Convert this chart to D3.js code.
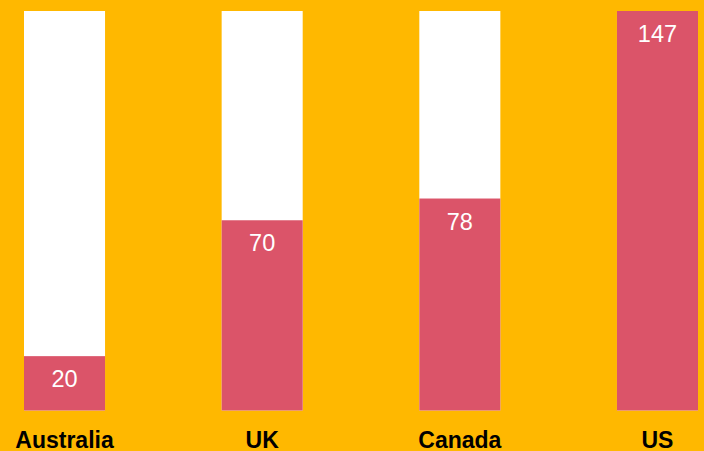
<!DOCTYPE html>
<html>
<head>
<meta charset="utf-8">
<script src="https://cdn.jsdelivr.net/npm/d3@7"></script>
<style>
  html, body { margin: 0; padding: 0; background: #FFB800; }
  svg { display: block; }
</style>
</head>
<body>
<svg width="704" height="451"></svg>
<script>
  var countries = ["Australia", "UK", "Canada", "US"];
  var values = [20, 70, 78, 147];

  var svg = d3.select("svg");
  var width = +svg.attr("width");
  var height = +svg.attr("height");

  var data = countries.map(function (c, i) { return { country: c, value: values[i] }; });

  var xScale = d3.scaleBand()
    .domain(countries)
    .range([24, 698])
    .paddingInner(0.59)
    .paddingOuter(0);

  var yScale = d3.scaleLinear()
    .domain([0, d3.max(values)])
    .range([410.5, 11]);

  svg.append("rect")
    .attr("width", width)
    .attr("height", height)
    .attr("fill", "#FFB800");

  // white track behind each bar
  svg.selectAll("rect.track")
    .data(data)
    .enter()
    .append("rect")
    .attr("class", "track")
    .attr("x", function (d) { return xScale(d.country); })
    .attr("y", yScale(d3.max(values)))
    .attr("width", xScale.bandwidth())
    .attr("height", yScale(0) - yScale(d3.max(values)))
    .attr("fill", "#ffffff");

  svg.selectAll("rect.bar")
    .data(data)
    .enter()
    .append("rect")
    .attr("class", "bar")
    .attr("x", function (d) { return xScale(d.country); })
    .attr("y", function (d) { return yScale(d.value); })
    .attr("width", xScale.bandwidth())
    .attr("height", function (d) { return yScale(0) - yScale(d.value); })
    .attr("fill", "#DB5469");

  svg.selectAll("text.value")
    .data(data)
    .enter()
    .append("text")
    .attr("class", "value")
    .attr("x", function (d) { return xScale(d.country) + xScale.bandwidth() / 2; })
    .attr("y", function (d) { return yScale(d.value) + 31; })
    .attr("text-anchor", "middle")
    .attr("fill", "#ffffff")
    .style("font-family", "'Liberation Sans', Arial, sans-serif")
    .style("font-size", "23.5px")
    .text(function (d) { return d.value; });

  svg.selectAll("text.label")
    .data(data)
    .enter()
    .append("text")
    .attr("class", "label")
    .attr("x", function (d) { return xScale(d.country) + xScale.bandwidth() / 2; })
    .attr("y", 447.5)
    .attr("text-anchor", "middle")
    .attr("fill", "#000000")
    .style("font-family", "'Liberation Sans', Arial, sans-serif")
    .style("font-size", "23px")
    .style("font-weight", "bold")
    .text(function (d) { return d.country; });
</script>
</body>
</html>
